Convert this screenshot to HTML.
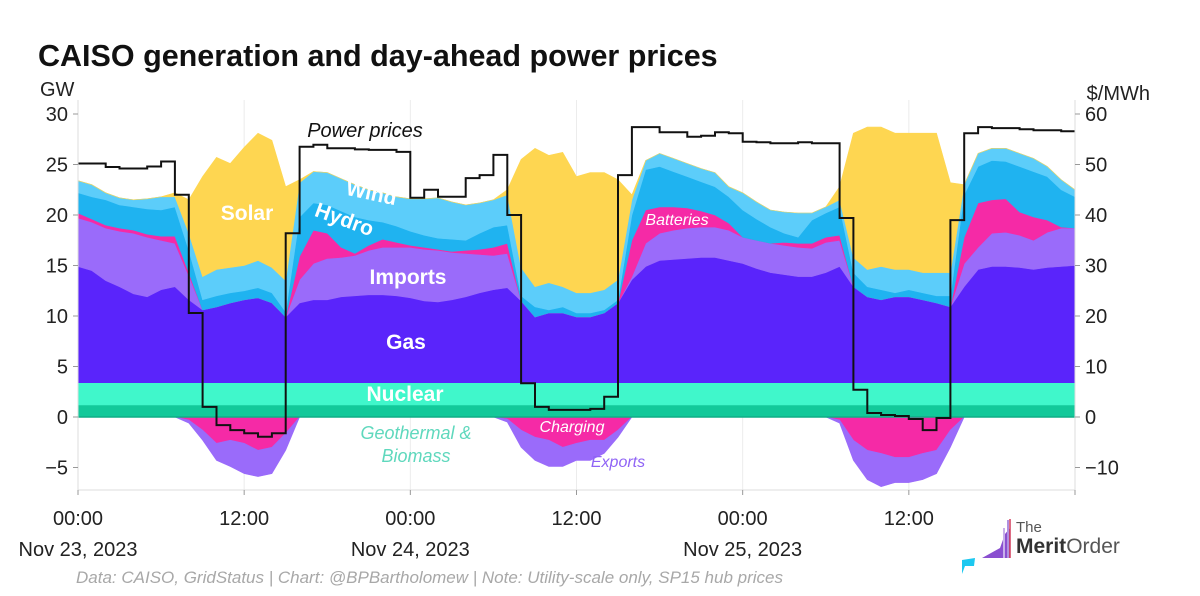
<!DOCTYPE html>
<html><head><meta charset="utf-8"><style>
html,body{margin:0;padding:0;background:#fff;}
svg{display:block;font-family:"Liberation Sans",Arial,sans-serif;}
</style></head><body>
<svg id="chart" width="1200" height="596" viewBox="0 0 1200 596" xmlns="http://www.w3.org/2000/svg">
<text x="38" y="66" font-size="30.5" font-weight="bold" fill="#111">CAISO generation and day-ahead power prices</text>
<text x="40" y="96" font-size="20" fill="#222">GW</text>
<text x="1150" y="100" font-size="20" fill="#222" text-anchor="end">$/MWh</text>
<g id="grid"></g>
<g id="areas"></g>
<g id="price"></g>
<g id="axes"></g>
<g>
<text x="247" y="220" font-size="21" font-weight="bold" fill="#fff" text-anchor="middle">Solar</text>
<text x="370" y="200" font-size="21" font-weight="bold" fill="#fff" text-anchor="middle" transform="rotate(12 370 200)">Wind</text>
<text x="342" y="226" font-size="21" font-weight="bold" fill="#fff" text-anchor="middle" transform="rotate(20 342 226)">Hydro</text>
<text x="408" y="284" font-size="21" font-weight="bold" fill="#fff" text-anchor="middle">Imports</text>
<text x="406" y="349" font-size="21" font-weight="bold" fill="#fff" text-anchor="middle">Gas</text>
<text x="405" y="401" font-size="21" font-weight="bold" fill="#fff" text-anchor="middle">Nuclear</text>
<text x="677" y="225" font-size="16" font-style="italic" fill="#fff" text-anchor="middle">Batteries</text>
<text x="572" y="432" font-size="16" font-style="italic" fill="#fff" text-anchor="middle">Charging</text>
<text x="416" y="439" font-size="18" font-style="italic" fill="#5fd8bd" text-anchor="middle">Geothermal &amp;</text>
<text x="416" y="462" font-size="18" font-style="italic" fill="#5fd8bd" text-anchor="middle">Biomass</text>
<text x="618" y="467" font-size="16" font-style="italic" fill="#8f63f5" text-anchor="middle">Exports</text>
<text x="365" y="137" font-size="20" font-style="italic" fill="#111" text-anchor="middle">Power prices</text>
</g>
<text x="76" y="583" font-size="17" font-style="italic" fill="#a8a8a8">Data: CAISO, GridStatus | Chart: @BPBartholomew | Note: Utility-scale only, SP15 hub prices</text>
<g>
<polygon points="982,558 1000,548 1005,534 1010,528 1010,558" fill="#8a4fd0"/>
<rect x="1003" y="528" width="2" height="30" fill="#c8b0ea"/>
<rect x="1007" y="520" width="2" height="38" fill="#b090e0"/>
<line x1="1010" y1="519" x2="1010" y2="558" stroke="#d23c5a" stroke-width="1.5"/>
<polygon points="962,560 975,558 974,566 965,566 962,574" fill="#1cc8f0"/>
<text x="1016" y="532" font-size="15" fill="#555">The</text>
<text x="1016" y="553" font-size="21" fill="#333"><tspan font-weight="bold">Merit</tspan><tspan fill="#555">Order</tspan></text>
</g>
</svg>
<script>
const hours = [0,1,2,3,4,5,6,7,8,9,10,11,12,13,14,15,16,17,18,19,20,21,22,23,24,25,26,27,28,29,30,31,32,33,34,35,36,37,38,39,40,41,42,43,44,45,46,47,48,49,50,51,52,53,54,55,56,57,58,59,60,61,62,63,64,65,66,67,68,69,70,71,72];
const geothermal = [1.2,1.2,1.2,1.2,1.2,1.2,1.2,1.2,1.2,1.2,1.2,1.2,1.2,1.2,1.2,1.2,1.2,1.2,1.2,1.2,1.2,1.2,1.2,1.2,1.2,1.2,1.2,1.2,1.2,1.2,1.2,1.2,1.2,1.2,1.2,1.2,1.2,1.2,1.2,1.2,1.2,1.2,1.2,1.2,1.2,1.2,1.2,1.2,1.2,1.2,1.2,1.2,1.2,1.2,1.2,1.2,1.2,1.2,1.2,1.2,1.2,1.2,1.2,1.2,1.2,1.2,1.2,1.2,1.2,1.2,1.2,1.2,1.2];
const nuclear = [2.2,2.2,2.2,2.2,2.2,2.2,2.2,2.2,2.2,2.2,2.2,2.2,2.2,2.2,2.2,2.2,2.2,2.2,2.2,2.2,2.2,2.2,2.2,2.2,2.2,2.2,2.2,2.2,2.2,2.2,2.2,2.2,2.2,2.2,2.2,2.2,2.2,2.2,2.2,2.2,2.2,2.2,2.2,2.2,2.2,2.2,2.2,2.2,2.2,2.2,2.2,2.2,2.2,2.2,2.2,2.2,2.2,2.2,2.2,2.2,2.2,2.2,2.2,2.2,2.2,2.2,2.2,2.2,2.2,2.2,2.2,2.2,2.2];
const gas = [11.5,11.1,10.1,9.5,8.8,8.5,9.2,9.5,8.2,7.2,7.5,7.9,8.2,8.4,7.9,6.5,7.9,8.2,8.2,8.5,8.6,8.7,8.7,8.6,8.4,8.1,8.0,8.2,8.5,8.9,9.2,9.4,8.1,6.5,6.9,6.9,6.5,6.5,6.9,7.9,10.2,11.5,12.1,12.2,12.3,12.4,12.4,12.1,11.8,11.3,10.9,10.7,10.5,10.5,10.9,11.5,9.5,8.5,8.2,8.5,8.5,8.2,7.9,7.5,9.5,11.2,11.5,11.5,11.4,11.2,11.4,11.5,11.6];
const imports = [4.8,4.8,5.2,5.5,6.0,5.9,4.9,4.3,2.4,0,0,0,0,0,0,0,2.3,3.6,4.1,3.9,4.0,4.4,4.7,4.8,5.0,5.1,5.1,4.7,4.3,3.8,3.4,3.4,0,0,0,0,0,0,0,0,0.3,2.3,2.7,2.9,3.0,3.0,3.0,3.0,2.6,2.8,2.9,2.9,2.9,2.8,3.0,2.6,0,0,0,0,0,0,0,0,2.3,2.2,3.3,3.4,3.2,2.9,3.5,3.8,3.7];
const batteries = [0.5,0.3,0.3,0.3,0.3,0.3,0.4,0.7,0.3,0,0,0,0,0,0,0,2.3,3.3,2.5,1.0,0.2,0.5,0.8,0.5,0.2,0.2,0.1,0.1,0.3,0.5,0.8,1.0,0,0,0,0,0,0,0,0,3.6,3.3,2.6,2.3,2.0,1.6,1.2,0.7,0,0,0,0.3,0.4,0.5,0.5,0.5,0,0,0,0,0,0,0,0,2.6,4.4,3.3,3.3,2.3,2.3,1.2,0.1,0];
const hydro = [2.0,2.2,2.5,2.3,2.3,2.5,2.6,2.9,2.2,1.0,1.1,1.0,0.9,1.0,1.0,0.5,3.9,2.7,2.8,3.6,3.6,2.5,1.7,1.6,1.4,1.2,1.1,1.2,1.0,1.6,2.0,1.8,0.5,1.0,0.3,0.6,0.4,0.4,0.3,0.3,2.5,4.0,4.0,3.5,3.1,2.9,2.8,2.6,2.7,2.1,1.6,0.9,0.6,2.3,2.4,2.8,1.4,1.0,1.0,0.4,0.7,0.7,0.7,1.1,4.2,3.6,3.9,3.7,4.5,4.5,4.3,3.7,3.1];
const wind = [1.2,1.2,0.7,0.7,0.7,1.0,1.3,1.0,1.7,2.3,2.6,2.5,2.5,2.7,2.5,3.1,3.4,3.1,3.2,3.2,3.2,3.0,2.9,2.9,3.2,3.6,4.0,3.7,3.5,3.0,2.7,3.0,2.8,2.0,2.7,2.0,2.0,2.0,2.0,2.0,1.5,0.9,1.3,1.3,1.3,1.3,1.4,1.0,1.7,1.7,1.7,2.1,2.4,0.7,0.6,0.7,1.5,1.7,2.3,2.3,2.0,2.0,2.3,2.3,1.0,1.3,1.2,1.3,1.3,1.3,1.0,1.0,0.7];
const solar = [0,0,0,0,0,0,0,0.4,3.3,9.9,11.1,10.3,11.7,12.6,12.6,9.3,0.3,0,0,0,0,0,0,0,0,0,0,0,0,0,0,0.5,10.7,13.7,12.6,13.3,11.5,11.9,11.6,9.9,0.5,0,0,0,0,0,0,0,0,0,0,0,0,0,0,1.3,12.3,14.1,13.8,13.5,13.5,13.8,13.8,8.9,0,0,0,0,0,0,0,0,0];
const charging = [0,0,0,0,0,0,0,0,0.3,1.3,2.6,2.3,2.6,3.3,3.0,1.6,0,0,0,0,0,0,0,0,0,0,0,0,0,0,0,0.2,1.3,2.0,2.3,3.0,2.6,2.3,2.3,1.3,0,0,0,0,0,0,0,0,0,0,0,0,0,0,0,0.3,2.3,3.3,3.6,4.0,4.0,3.6,3.3,1.3,0,0,0,0,0,0,0,0,0];
const exportsGW = [0,0,0,0,0,0,0,0,0.3,1.0,1.7,2.6,3.0,2.6,2.6,1.7,0,0,0,0,0,0,0,0,0,0,0,0,0,0,0,0.3,1.7,2.3,2.6,1.9,1.7,2.0,1.3,0.7,0,0,0,0,0,0,0,0,0,0,0,0,0,0,0,0.3,2.0,2.9,3.3,2.5,2.5,2.6,2.3,1.7,0,0,0,0,0,0,0,0,0];
const prices = [50.2,50.2,49.5,49.2,49.2,49.6,50.6,44.0,20.6,2.0,-1.6,-2.6,-3.2,-3.9,-3.2,36.4,53.5,53.9,53.2,53.2,53.0,52.9,52.9,52.5,43.4,45.0,43.6,43.6,47.3,47.9,51.9,40.0,6.7,2.0,1.4,1.4,1.4,1.6,4.0,47.9,57.4,57.4,56.4,56.4,55.5,55.7,56.4,56.2,54.5,54.4,54.2,54.2,54.4,54.2,54.2,39.4,5.4,0.8,0.4,0.2,-0.4,-2.6,-0.2,39.0,56.2,57.4,57.2,57.2,57.0,56.8,56.8,56.6];
const leftTicks = [30,25,20,15,10,5,0,-5];
const rightTicks = [60,50,40,30,20,10,0,-10];
const xTickHours = [0,12,24,36,48,60,72];
const xTickLabels = ["00:00","12:00","00:00","12:00","00:00","12:00",""];
const dateLabels = ["Nov 23, 2023","","Nov 24, 2023","","Nov 25, 2023","",""];

const NS = "http://www.w3.org/2000/svg";
const X0 = 78, X1 = 1075, PT = 100, PB = 490;
function xs(h){ return X0 + (X1 - X0) * h / 72; }
function yl(v){ return 417 - v * 10.1; }
function yr(p){ return 417 - p * 5.05; }
function mk(tag, attrs, parent){ const e = document.createElementNS(NS, tag); for (const k in attrs) e.setAttribute(k, attrs[k]); parent.appendChild(e); return e; }

const grid = document.getElementById('grid');
xTickHours.forEach(h => {
  if (h === 0 || h === 72) return;
  const ln = mk('line', {x1: xs(h), x2: xs(h), y1: PT, y2: PB, stroke: '#ececec', 'stroke-width': 1}, grid);
  
  
});

const areas = document.getElementById('areas');
function band(lower, upper, color, name){
  let d = '';
  hours.forEach((h,i) => { d += (i ? 'L' : 'M') + xs(h).toFixed(1) + ',' + yl(upper[i]).toFixed(1); });
  for (let i = hours.length - 1; i >= 0; i--) d += 'L' + xs(hours[i]).toFixed(1) + ',' + yl(lower[i]).toFixed(1);
  const p = mk('path', {d: d + 'Z', fill: color, stroke: color, 'stroke-width': 0.6}, areas);
  
  
}
const stack = [
  [geothermal, '#12c99a', 'geothermal-area'],
  [nuclear, '#40f7cb', 'nuclear-area'],
  [gas, '#5a24fb', 'gas-area'],
  [imports, '#9a6bfa', 'imports-area'],
  [batteries, '#f52aa6', 'batteries-area'],
  [hydro, '#1fb3f0', 'hydro-area'],
  [wind, '#5ccdfa', 'wind-area'],
  [solar, '#fed651', 'solar-area']
];
let base = hours.map(() => 0);
stack.forEach(([vals, color, name]) => {
  const top = base.map((b,i) => b + vals[i]);
  band(base, top, color, name);
  base = top;
});
const chTop = hours.map(() => 0);
const chBot = charging.map(v => -v);
band(chTop, chBot, '#f52aa6', 'charging-area');
const exBot = chBot.map((b,i) => b - exportsGW[i]);
band(chBot, exBot, '#9a6bfa', 'exports-area');
const zl = mk('line', {x1: X0, x2: X1, y1: 417, y2: 417, stroke: '#0fae86', 'stroke-width': 1.5}, areas);



const priceG = document.getElementById('price');
let pd = '';
prices.forEach((p,i) => {
  const y = yr(p).toFixed(1);
  pd += (i ? 'L' + xs(i).toFixed(1) + ',' + y : 'M' + xs(0).toFixed(1) + ',' + y) + 'L' + xs(i + 1).toFixed(1) + ',' + y;
});
const pl = mk('path', {d: pd, fill: 'none', stroke: '#111', 'stroke-width': 2}, priceG);



const axes = document.getElementById('axes');
mk('line', {x1: X0, x2: X0, y1: PT, y2: PB, stroke: '#ddd', 'stroke-width': 1}, axes);
mk('line', {x1: X1, x2: X1, y1: PT, y2: PB, stroke: '#ddd', 'stroke-width': 1}, axes);
mk('line', {x1: X0, x2: X1, y1: PB, y2: PB, stroke: '#ddd', 'stroke-width': 1}, axes);
leftTicks.forEach(v => {
  mk('line', {x1: X0 - 5, x2: X0, y1: yl(v), y2: yl(v), stroke: '#999'}, axes);
  const t = mk('text', {x: X0 - 10, y: yl(v) + 7, 'font-size': 20, 'text-anchor': 'end', fill: '#222'}, axes);
  t.textContent = v < 0 ? '\u2212' + Math.abs(v) : String(v);
  
  
});
rightTicks.forEach(v => {
  mk('line', {x1: X1, x2: X1 + 5, y1: yr(v), y2: yr(v), stroke: '#999'}, axes);
  const t = mk('text', {x: X1 + 10, y: yr(v) + 7, 'font-size': 20, fill: '#222'}, axes);
  t.textContent = v < 0 ? '\u2212' + Math.abs(v) : String(v);
  
  
});
xTickHours.forEach((h,i) => {
  mk('line', {x1: xs(h), x2: xs(h), y1: PB, y2: PB + 5, stroke: '#999'}, axes);
  if (xTickLabels[i]) {
    const t = mk('text', {x: xs(h), y: 525, 'font-size': 20, 'text-anchor': 'middle', fill: '#222'}, axes);
    t.textContent = xTickLabels[i];
    
    
  }
  if (dateLabels[i]) {
    const t = mk('text', {x: xs(h), y: 556, 'font-size': 20, 'text-anchor': 'middle', fill: '#222'}, axes);
    t.textContent = dateLabels[i];
    
    
  }
});
</script>
</body></html>
